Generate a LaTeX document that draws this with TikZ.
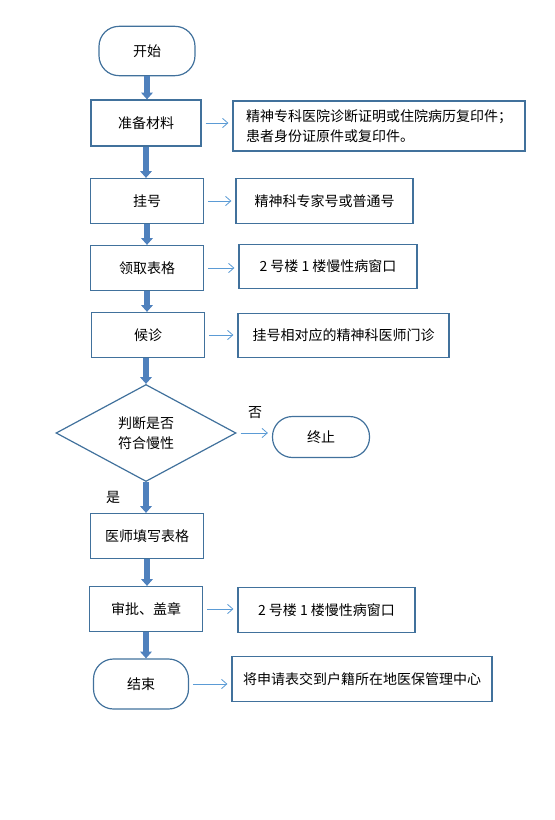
\documentclass[tikz,border=0pt]{standalone}
\usepackage{fontspec}
\setmainfont{Noto Sans CJK SC}
\usepackage{tikz}
\usetikzlibrary{shapes.geometric, arrows.meta, positioning}
\definecolor{boxline}{RGB}{65,113,156}
\definecolor{flowfill}{RGB}{79,129,189}
\definecolor{hintline}{RGB}{91,155,213}

\begin{document}
\begin{tikzpicture}[x=0.75pt, y=-0.75pt,
  every node/.style={font=\fontsize{10.5pt}{15pt}\selectfont, text=black},
  box/.style={draw=boxline, line width=0.9pt, minimum width=84.75pt, minimum height=33.75pt, align=center},
  term/.style={box, rounded corners=15pt, minimum width=72pt, minimum height=37pt},
  note/.style={draw=boxline, line width=0.9pt, minimum height=33.5pt, align=center},
  flow/.style={-{Triangle[width=8.5pt,length=5pt]}, flowfill, line width=4.5pt},
  hint/.style={-{Straight Barb[width=7pt,length=4pt]}, hintline, line width=0.6pt, shorten <=3pt, shorten >=3pt}]
\useasboundingbox (0,0) rectangle (554,820);
% main column
\node[term] (start) at (147,51) {开始};
\node[box, minimum width=82.5pt, minimum height=34.5pt] (prep) at (146,123) {准备材料};
\node[box] (reg) at (147,201) {挂号};
\node[box] (form) at (147,268) {领取表格};
\node[box] (wait) at (148,335) {候诊};
\node[diamond, draw=boxline, line width=0.9pt, minimum width=135pt, minimum height=72.75pt, inner sep=0pt, align=center] (judge) at (146,433) {判断是否\\符合慢性};
\node[term, minimum width=72.75pt, minimum height=30.75pt] (stop) at (321,437) {终止};
\node[box] (fill) at (147,536) {医师填写表格};
\node[box] (seal) at (146,609) {审批、盖章};
\node[term, minimum width=71.25pt, minimum height=37.5pt] (end) at (141,684) {结束};
% notes
\node[note, minimum width=219pt, minimum height=37.5pt, align=left] (n1) at (379,126) {精神专科医院诊断证明或住院病历复印件；\\患者身份证原件或复印件。};
\node[note, minimum width=132.75pt] (n2) at (324.5,201) {精神科专家号或普通号};
\node[note, minimum width=133.5pt] (n3) at (328,266.5) {2 号楼 1 楼慢性病窗口};
\node[note, minimum width=158.25pt] (n4) at (343.5,335.5) {挂号相对应的精神科医师门诊};
\node[note, minimum width=132.75pt] (n5) at (326.5,610) {2 号楼 1 楼慢性病窗口};
\node[note, minimum width=195pt] (n6) at (362,679) {将申请表交到户籍所在地医保管理中心};
% labels
\node (no) at (255,413) {否};
\node (yes) at (113,497) {是};
% flow
\draw[flow] (start.south) -- (start.south |- prep.north);
\draw[flow] (prep.south) -- (prep.south |- reg.north);
\draw[flow] (reg.south) -- (reg.south |- form.north);
\draw[flow] (form.south) -- (form.south |- wait.north);
\draw[flow] (judge.north |- wait.south) -- (judge.north);
\draw[flow] (judge.south) -- (judge.south |- fill.north);
\draw[flow] (fill.south) -- (fill.south |- seal.north);
\draw[flow] (seal.south) -- (seal.south |- end.north);
% hints
\draw[hint] (prep.east) -- (prep.east -| n1.west);
\draw[hint] (reg.east) -- (reg.east -| n2.west);
\draw[hint] (form.east) -- (form.east -| n3.west);
\draw[hint] (wait.east) -- (wait.east -| n4.west);
\draw[hint] (judge.east) -- (judge.east -| stop.west);
\draw[hint] (seal.east) -- (seal.east -| n5.west);
\draw[hint] (end.east) -- (end.east -| n6.west);
\end{tikzpicture}
\end{document}
